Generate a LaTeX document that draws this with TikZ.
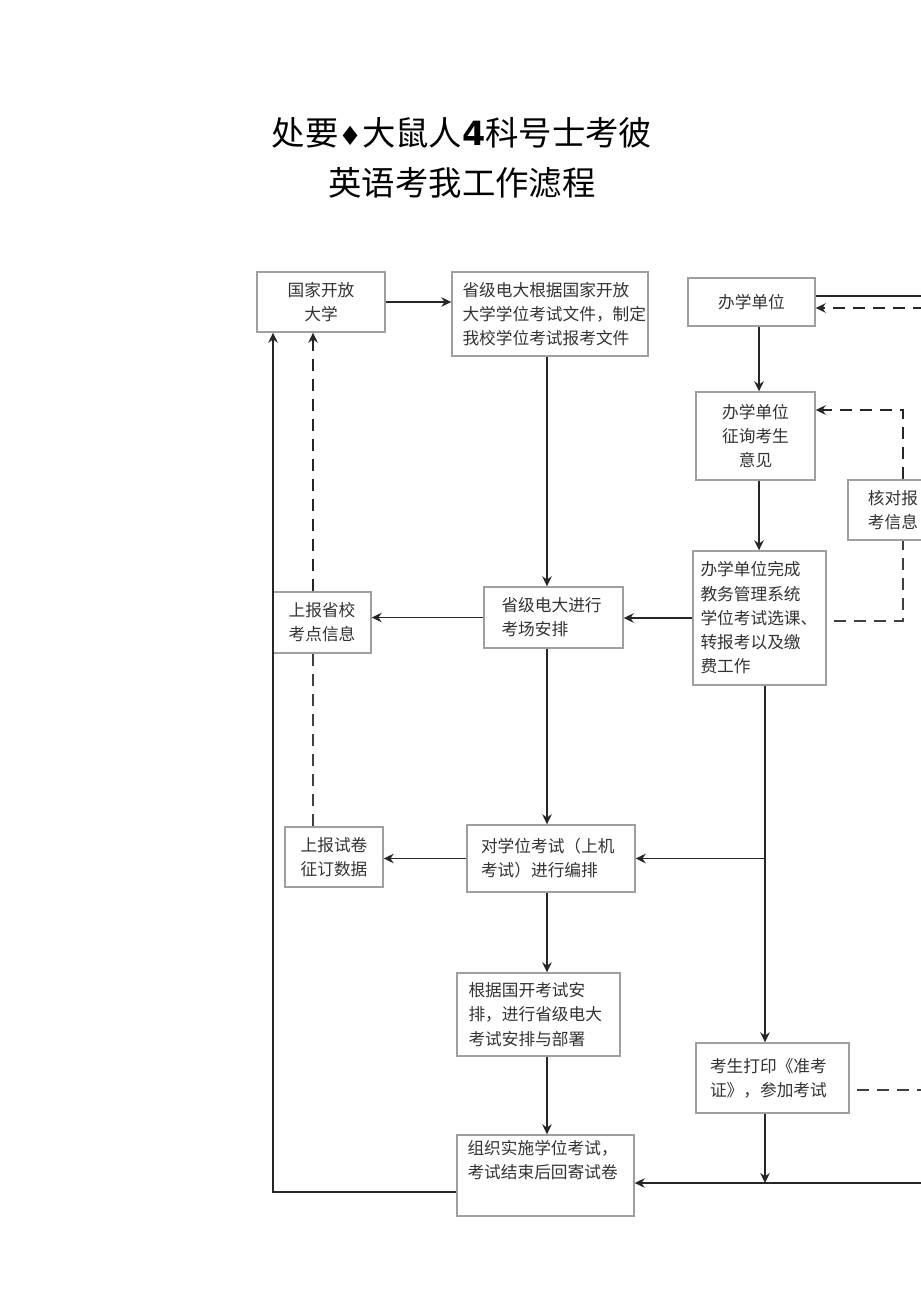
\documentclass[tikz,border=0pt]{standalone}
\usepackage{fontspec}
\newfontfamily\cjk{Noto Sans CJK SC}
\newfontfamily\symf{DejaVu Sans}
\usetikzlibrary{arrows.meta,positioning}

\begin{document}
\begin{tikzpicture}[x=0.02cm,y=-0.02cm,
  box/.style={draw=gray!75,line width=0.8pt,fill=white,inner sep=0pt,text=black!80,
    font=\cjk\fontsize{9.5}{13.8}\selectfont},
  arr/.style={-{Stealth[length=2mm,width=1.9mm]},line width=1pt,black!85},
  dasharr/.style={arr,dash pattern=on 2.4mm off 1.6mm},
  dline/.style={line width=1pt,black!75,dash pattern=on 2.4mm off 1.6mm}]
\useasboundingbox (0,0) rectangle (920,1301);
% title
\node[font=\cjk\fontsize{19}{28.5}\selectfont,align=center] (title) at (462,158)
  {处要{\symf\fontsize{15}{28.5}\selectfont ♦}大鼠人{\symf\bfseries 4}科号士考彼\\英语考我工作滤程};
% boxes
\node[box,minimum width=2.56cm,minimum height=1.2cm,align=center] (uni) at (321,302) {国家开放\\大学};
\node[box,minimum width=3.92cm,minimum height=1.68cm,text width=3.5cm,align=left] (prov) at (550,314)
  {省级电大根据国家开放\\大学学位考试文件，制定\\我校学位考试报考文件};
\node[box,minimum width=2.54cm,minimum height=0.96cm,align=center] (unit) at (751.5,302) {办学单位};
\node[box,minimum width=2.38cm,minimum height=1.76cm,align=center] (ask) at (755.5,436) {办学单位\\征询考生\\意见};
\node[box,minimum width=1.8cm,minimum height=1.2cm,align=center] (check) at (893,510) {核对报\\考信息};
\node[box,minimum width=2.66cm,minimum height=2.68cm,text width=2.36cm,align=left] (done) at (759.5,618)
  {办学单位完成\\教务管理系统\\学位考试选课、\\转报考以及缴\\费工作};
\node[box,minimum width=2.78cm,minimum height=1.22cm,text width=2.08cm,align=left] (room) at (553.5,617.5)
  {省级电大进行\\考场安排};
\node[box,minimum width=1.96cm,minimum height=1.22cm,align=center] (site) at (322,622.5) {上报省校\\考点信息};
\node[box,minimum width=1.96cm,minimum height=1.2cm,align=center] (order) at (334,857) {上报试卷\\征订数据};
\node[box,minimum width=3.36cm,minimum height=1.34cm,text width=2.8cm,align=left] (plan) at (551,858.5)
  {对学位考试（上机\\考试）进行编排};
\node[box,minimum width=3.26cm,minimum height=1.66cm,text width=2.8cm,align=left] (deploy) at (538.5,1014.5)
  {根据国开考试安\\排，进行省级电大\\考试安排与部署};
\node[box,minimum width=3.06cm,minimum height=1.4cm,text width=2.5cm,align=left] (print) at (772.5,1078)
  {考生打印《准考\\证》，参加考试};
\node[box,minimum width=3.54cm,minimum height=1.62cm,text width=3.12cm,align=left] (exam) at (545.5,1175.5)
  {组织实施学位考试，\\考试结束后回寄试卷\\\strut};
% columns and turns
\coordinate (mc) at (547,0);
\coordinate (rc) at (759,0);
\coordinate (lc) at (765,0);
\coordinate (dc) at (313,0);
\coordinate (d1) at (903,410);
\coordinate (f1) at (903,621);
\coordinate (lx) at (273,1192);
\coordinate (bl) at (765,1183);
\coordinate (e1) at (925,296);
\coordinate (e2) at (925,308);
\coordinate (e3) at (925,1183);
\coordinate (e4) at (925,1090);
% connectors
\draw[arr] (uni.east) -- (uni.east -| prov.west);
\draw[arr] (prov.south -| mc) -- (room.north -| mc);
\draw[arr] (room.south -| mc) -- (plan.north -| mc);
\draw[arr] (plan.south -| mc) -- (deploy.north -| mc);
\draw[arr] (deploy.south -| mc) -- (exam.north -| mc);
\draw[line width=1pt,black!85] (unit.east |- e1) -- (e1);
\draw[dasharr] (e2) -- (e2 -| unit.east);
\draw[arr] (unit.south -| rc) -- (ask.north -| rc);
\draw[arr] (ask.south -| rc) -- (done.north -| rc);
\draw[dasharr] (check.north -| d1) -- (d1) -- (d1 -| ask.east);
\draw[dline] ([xshift=1.5mm]done.east |- f1) -- (f1) -- (check.south -| f1);
\draw[arr] (done.west) -- (done.west -| room.east);
\draw[arr] (room.west) -- (room.west -| site.east);
\draw[arr] (done.south -| lc) -- (print.north -| lc);
\draw[arr] (lc |- plan.east) -- (plan.east);
\draw[arr] (plan.west) -- (plan.west -| order.east);
\draw[dline] (order.north -| dc) -- (site.south -| dc);
\draw[dasharr] (site.north -| dc) -- (uni.south -| dc);
\draw[arr] (exam.west |- lx) -- (lx) -- (uni.south -| lx);
\draw[arr] (print.south -| bl) -- (bl);
\draw[arr] (e3) -- (e3 -| exam.east);
\draw[dline] ([xshift=1.5mm]print.east |- e4) -- (e4);
\end{tikzpicture}
\end{document}
